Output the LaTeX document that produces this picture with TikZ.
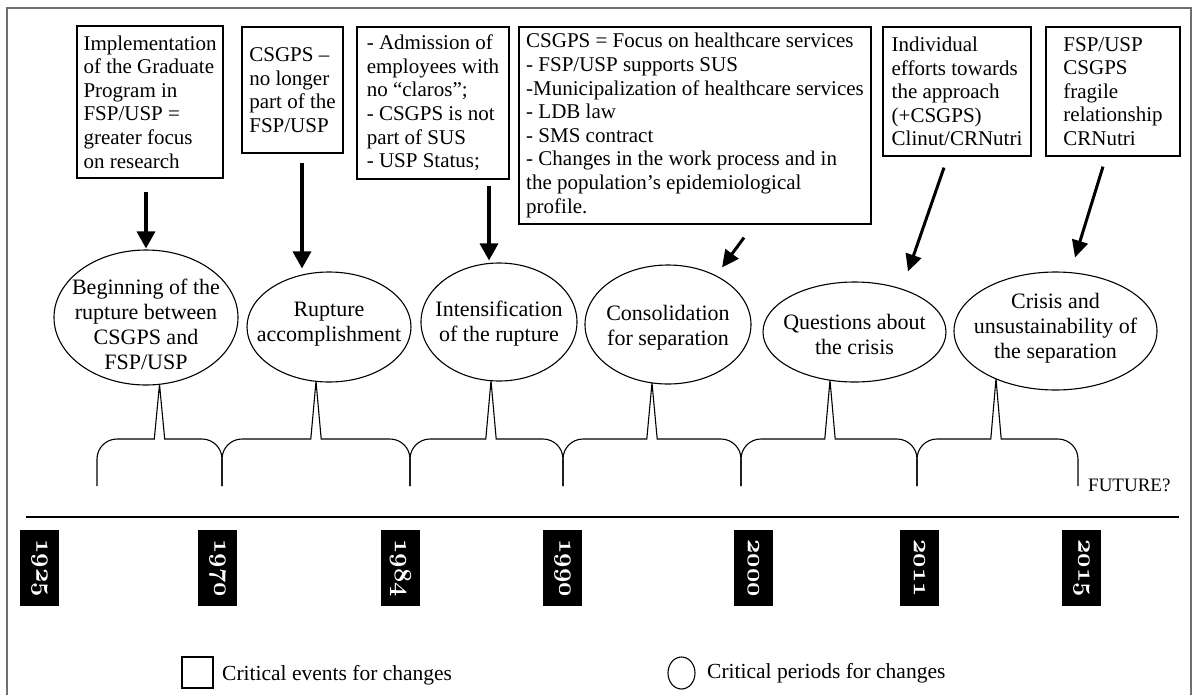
\documentclass[tikz,border=0pt]{standalone}
\usepackage{fontspec}
\setmainfont{Liberation Serif}
\usetikzlibrary{arrows.meta,shapes.geometric}
\definecolor{framec}{RGB}{110,110,110}
\begin{document}
\begin{tikzpicture}[x=1pt,y=-1pt,
  evbox/.style={draw, line width=1.2pt, rectangle, align=left, inner sep=3pt, font=\fontsize{21}{23.6}\selectfont},
  period/.style={draw, line width=1.1pt, ellipse, inner sep=0pt},
  ptext/.style={align=center, inner sep=0pt, font=\fontsize{22}{25}\selectfont},
  arr/.style={line width=3.4pt, -{Triangle[length=17pt,width=18pt]}},
  arrs/.style={line width=3pt, -{Triangle[length=17pt,width=16pt]}},
  brace/.style={line width=1.1pt, line join=miter},
  yearbox/.style={fill=black, text=white, rotate=-90, minimum width=76pt, minimum height=39pt, inner sep=0pt, font=\fontsize{26}{26}\usefont{OML}{cmm}{b}{it}},
  legend/.style={anchor=base west, inner sep=0pt, font=\fontsize{21.5}{24}\selectfont},
]
\useasboundingbox (0,0) rectangle (1195,694);
% frame
\draw[framec, line width=1.8pt] (7,694.5) -- (7,8) -- (1191,8) -- (1191,694.5);

% event boxes
\node[evbox, minimum width=146pt, minimum height=152pt] (B1) at (150,102) {Implementation\\of the Graduate\\Program in\\FSP/USP =\\greater focus\\on research};
\node[evbox, minimum width=101pt, minimum height=126pt] (B2) at (292.5,90) {CSGPS --\\no longer\\part of the\\FSP/USP};
\node[evbox, minimum width=152pt, minimum height=152pt] (B3) at (433,103) {- Admission of\\employees with\\no “claros”;\\- CSGPS is not\\part of SUS\\- USP Status;};
\node[evbox, minimum width=352pt, minimum height=197pt] (B4) at (695,125.5) {CSGPS = Focus on healthcare services\\- FSP/USP supports SUS\\-Municipalization of healthcare services\\- LDB law\\- SMS contract\\- Changes in the work process and in\\the population’s epidemiological\\profile.};
\node[evbox, minimum width=148pt, minimum height=129pt] (B5) at (957,91.5) {Individual\\efforts towards\\the approach\\(+CSGPS)\\Clinut/CRNutri};
\node[evbox, minimum width=134pt, minimum height=129pt] (B6) at (1113,91.5) {FSP/USP\\CSGPS\\fragile\\relationship\\CRNutri};

% periods
\node[period, minimum width=184pt, minimum height=135pt] (E1) at (146,317.5) {};
\node[period, minimum width=164pt, minimum height=110pt] (E2) at (329,327) {};
\node[period, minimum width=156pt, minimum height=118pt] (E3) at (499,322) {};
\node[period, minimum width=166pt, minimum height=119pt] (E4) at (668,324.5) {};
\node[period, minimum width=183pt, minimum height=100pt] (E5) at (854.5,332) {};
\node[period, minimum width=203pt, minimum height=118pt] (E6) at (1055.5,331) {};
\node[ptext] (L1) at (146,324) {Beginning of the\\rupture between\\CSGPS and\\FSP/USP};
\node[ptext] (L2) at (329,324) {Rupture\\accomplishment};
\node[ptext] (L3) at (499,324) {Intensification\\of the rupture};
\node[ptext] (L4) at (668,328) {Consolidation\\for separation};
\node[ptext] (L5) at (854.5,334.5) {Questions about\\the crisis};
\node[ptext] (L6) at (1055.5,328) {Crisis and\\unsustainability of\\the separation};

% arrows
\draw[arr, shorten <=13pt, shorten >=1pt] (E1.north |- B1.south) -- (E1.north);
\draw[arr, shorten <=9pt, shorten >=3pt] ([xshift=9.5pt]B2.south) -- ([xshift=9.5pt]B2.south |- E2.north);
\draw[arr, shorten <=6pt, shorten >=2pt] ([xshift=-10pt]E3.north |- B3.south) -- ([xshift=-10pt]E3.north);
\draw[arrs] ([xshift=49pt,yshift=-13pt]B4.south) -- ([xshift=54pt,yshift=-3pt]E4.north);
\draw[arrs] ([xshift=-13pt,yshift=-11pt]B5.south) -- ([xshift=53.5pt,yshift=10pt]E5.north);
\draw[arrs] ([xshift=-10pt,yshift=-10pt]B6.south) -- ([xshift=19.5pt,yshift=14pt]E6.north);

% braces
\foreach \a/\s/\t/\b in {97/159.5/384.3/222, 222/316/381.3/410, 410/491/380.7/563, 563/652/382.9/741, 741/830/380.2/917, 917/996/378.8/1078}{
  \draw[brace] (\a,486) -- (\a,459) .. controls (\a,448) and (\a+9,439) .. (\a+20,439)
    -- (\s-5.2,439) -- (\s,\t) -- (\s+5.2,439)
    -- (\b-20,439) .. controls (\b-9,439) and (\b,448) .. (\b,459) -- (\b,486);
}
\node[anchor=base west, inner sep=0pt, font=\fontsize{19}{20}\selectfont] (FUT) at (1088,491) {FUTURE?};

% timeline
\draw[line width=2.5pt] (26,517) -- (1179,517);
\node[yearbox] (Y1) at (39.5,568) {1925};
\node[yearbox] (Y2) at (217.5,568) {1970};
\node[yearbox] (Y3) at (400.5,568) {1984};
\node[yearbox] (Y4) at (562.5,568) {1990};
\node[yearbox] (Y5) at (753.5,568) {2000};
\node[yearbox] (Y6) at (919.5,568) {2011};
\node[yearbox] (Y7) at (1081.5,568) {2015};

% legend
\node[draw, line width=1.1pt, minimum width=31pt, minimum height=31pt, inner sep=0pt] (LS) at (197.5,672.5) {};
\node[legend] (LST) at (222,680) {Critical events for changes};
\node[draw, ellipse, line width=1.1pt, minimum width=27pt, minimum height=32pt, inner sep=0pt] (LC) at (681.5,673) {};
\node[legend] (LCT) at (707,678) {Critical periods for changes};
\end{tikzpicture}
\end{document}
